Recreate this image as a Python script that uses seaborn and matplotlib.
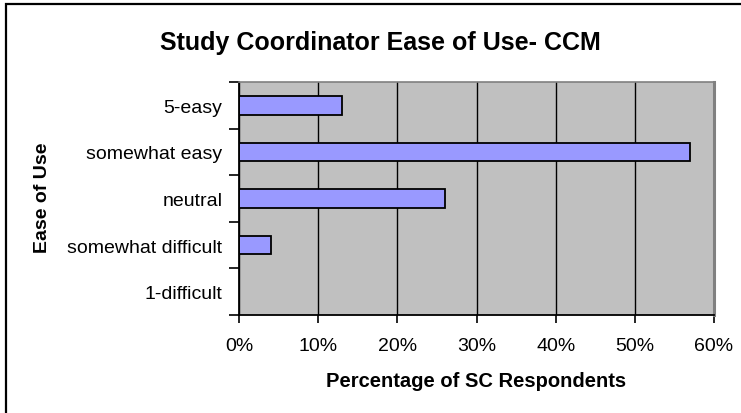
import matplotlib
matplotlib.use("Agg")
import matplotlib.pyplot as plt
import seaborn as sns
import pandas as pd
import numpy as np
from matplotlib.patches import Rectangle
from matplotlib.ticker import FixedLocator, PercentFormatter

categories = ["5-easy", "somewhat easy", "neutral", "somewhat difficult", "1-difficult"]
values = [13, 57, 26, 4, 0]
xticks = [0, 10, 20, 30, 40, 50, 60]

df = pd.DataFrame({"cat": categories, "val": values})

sns.set_style("white")
plt.rcParams["font.family"] = ["Liberation Sans", "DejaVu Sans"]
plt.rcParams["text.color"] = "black"
plt.rcParams["axes.labelcolor"] = "black"
plt.rcParams["xtick.color"] = "black"
plt.rcParams["ytick.color"] = "black"

W, H = 741, 414
fig = plt.figure(figsize=(W / 100, H / 100), dpi=100)
ax = fig.add_axes([239 / W, 1 - 316 / H, (714 - 239) / W, (316 - 83) / H])
ax.set_facecolor("#C0C0C0")

sns.barplot(data=df, x="val", y="cat", order=categories, orient="h",
            color="#9999FF", edgecolor="black", linewidth=1.3, width=0.4,
            saturation=1, ax=ax, zorder=3)

ax.set_xlim(0, 60)
ax.set_ylim(4.5, -0.5)
ax.set_xticks(xticks)
ax.xaxis.set_major_formatter(PercentFormatter(decimals=0))
ax.xaxis.grid(True, color="black", linewidth=1.0, zorder=1)
ax.set_axisbelow(True)

ax.yaxis.set_minor_locator(FixedLocator(np.arange(-0.5, 5.0, 1.0)))
ax.tick_params(axis="y", which="major", length=0, pad=12, labelsize=14, labelcolor="black")
ax.tick_params(axis="y", which="minor", length=7, width=1.2, color="black", direction="out", left=True)
ax.tick_params(axis="x", which="major", length=6, width=1.2, color="black", direction="out",
               bottom=True, pad=10, labelsize=14, labelcolor="black")

for s in ["left", "bottom"]:
    ax.spines[s].set_color("black")
    ax.spines[s].set_linewidth(1.3)
ax.spines["top"].set_color("#808080")
ax.spines["top"].set_linewidth(1.2)
ax.spines["right"].set_color("#808080")
ax.spines["right"].set_linewidth(2.2)
for s in ax.spines.values():
    s.set_visible(True)
    s.set_zorder(4)

ax.set_xlabel("Percentage of SC Respondents", fontsize=14.5, fontweight="bold", color="black")
ax.set_ylabel("Ease of Use", fontsize=14, fontweight="bold", color="black")

fig.text(380 / W, 1 - 43 / H, "Study Coordinator Ease of Use- CCM", ha="center", va="center",
         fontsize=18, fontweight="bold", color="black")

fig.patches.append(Rectangle((6 / W, -0.1), 1.2, 1 - 5 / H + 0.1, transform=fig.transFigure,
                             fill=False, edgecolor="black", linewidth=1.6, zorder=10))

ax.yaxis.set_label_coords((51 - 239) / (714 - 239), (316 - 198) / (316 - 83))
ax.xaxis.set_label_coords(0.5, -(372 - 316) / (316 - 83))

fig.savefig("out.png", dpi=100)
